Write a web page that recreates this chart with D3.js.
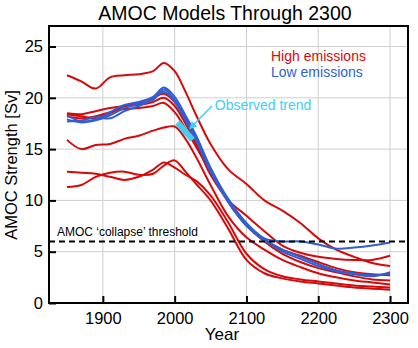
<!DOCTYPE html>
<html>
<head>
<meta charset="utf-8">
<script src="https://cdn.jsdelivr.net/npm/d3@7"></script>
<style>
  body { margin: 0; background: #fff; }
  svg text { font-family: "Liberation Sans", Arial, Helvetica, sans-serif; }
</style>
</head>
<body>
<svg id="chart" width="418" height="348"></svg>
<script>
// Years sampled along every model run
const years = [1850, 1870, 1890, 1910, 1930, 1950, 1970, 1985, 2000, 2015, 2030, 2050, 2075, 2100, 2125, 2150, 2175, 2200, 2225, 2250, 2275, 2300];

// High emissions runs (Sv)
const high1 = [22.2, 21.6, 20.9, 22.0, 22.2, 22.3, 22.6, 23.4, 22.6, 20.6, 18.3, 15.5, 13.0, 11.6, 10.0, 9.0, 7.8, 6.3, 5.2, 4.5, 3.9, 3.6];
const high2 = [18.5, 18.4, 18.7, 19.0, 19.2, 19.3, 19.6, 20.0, 19.2, 17.5, 15.5, 12.5, 10.0, 8.5, 7.0, 5.6, 4.9, 4.5, 4.3, 4.2, 4.2, 4.6];
const high3 = [18.2, 18.0, 18.2, 18.6, 18.9, 19.0, 19.2, 19.5, 18.6, 17.0, 15.2, 12.8, 10.0, 7.6, 6.0, 4.8, 4.0, 3.4, 3.0, 2.6, 2.3, 2.2];
const high4 = [15.9, 15.0, 15.4, 15.5, 16.0, 16.3, 16.8, 17.1, 17.2, 16.0, 14.2, 11.5, 8.4, 6.4, 5.2, 4.2, 3.5, 2.9, 2.5, 2.2, 2.0, 1.8];
const high5 = [12.8, 12.7, 12.6, 12.3, 12.0, 12.3, 13.0, 13.7, 13.2, 12.5, 11.9, 10.5, 7.8, 4.8, 3.3, 2.6, 2.3, 2.1, 1.9, 1.7, 1.6, 1.5];
const high6 = [11.3, 11.5, 12.3, 12.7, 12.8, 12.5, 12.6, 13.4, 13.9, 12.8, 11.6, 10.0, 7.2, 4.2, 2.9, 2.4, 2.1, 1.9, 1.7, 1.5, 1.4, 1.3];
const high7 = [18.4, 18.2, 18.0, 18.5, 19.2, 19.5, 20.0, 20.4, 19.6, 18.0, 16.0, 13.0, 9.8, 7.6, 6.2, 5.2, 4.6, 4.0, 3.4, 3.0, 2.8, 2.7];

// Low emissions runs (Sv)
const low1 = [18.3, 17.7, 17.9, 18.6, 19.3, 19.6, 20.1, 21.0, 20.1, 18.3, 16.3, 13.2, 10.1, 7.8, 6.3, 6.0, 6.0, 5.7, 5.3, 5.4, 5.6, 5.9];
const low2 = [17.9, 17.6, 17.8, 18.3, 19.0, 19.4, 19.8, 20.8, 19.8, 18.0, 16.0, 13.0, 10.0, 7.7, 6.2, 5.0, 4.3, 3.6, 3.1, 2.8, 2.6, 3.0];
const low3 = [17.7, 17.8, 18.1, 18.0, 18.7, 19.2, 19.9, 20.6, 19.6, 17.8, 15.8, 12.8, 9.8, 7.5, 6.1, 5.2, 4.5, 3.8, 3.2, 2.9, 2.7, 2.9];

// Observed trend and threshold
const obsYears = [2004, 2025];
const obsValues = [17.6, 15.9];
const threshold = 6;

const xTicks = [1900, 2000, 2100, 2200, 2300];
const yTicks = [0, 5, 10, 15, 20, 25];

const highRuns = [high1, high2, high3, high4, high5, high6, high7];
const lowRuns = [low1, low2, low3];

const red = "#d60a0a";
const blue = "#2f5fd3";
const cyan = "#3fd0f4";

const margin = {left: 49, right: 10, top: 26, bottom: 45};
const width = 418, height = 348;

const svg = d3.select("#chart");

const x = d3.scaleLinear().domain([1825, 2325]).range([margin.left, width - margin.right]);
const y = d3.scaleLinear().domain([0, 27]).range([height - margin.bottom, margin.top]);

// grid
svg.append("g").selectAll("line").data(xTicks).join("line")
  .attr("x1", d => x(d)).attr("x2", d => x(d))
  .attr("y1", y(0)).attr("y2", y(27))
  .attr("stroke", "#cfcfcf").attr("stroke-width", 1);
svg.append("g").selectAll("line").data(yTicks.slice(1)).join("line")
  .attr("x1", x(1825)).attr("x2", x(2325))
  .attr("y1", d => y(d)).attr("y2", d => y(d))
  .attr("stroke", "#cfcfcf").attr("stroke-width", 1);

// model lines
const line = d3.line()
  .x((d, i) => x(years[i]))
  .y(d => y(d))
  .curve(d3.curveCatmullRom);

svg.append("g").selectAll("path").data(highRuns).join("path")
  .attr("d", d => line(d))
  .attr("fill", "none")
  .attr("stroke", red)
  .attr("stroke-width", 2);

svg.append("g").selectAll("path").data(lowRuns).join("path")
  .attr("d", d => line(d))
  .attr("fill", "none")
  .attr("stroke", blue)
  .attr("stroke-width", 2);

// observed trend
svg.append("line")
  .attr("x1", x(obsYears[0])).attr("y1", y(obsValues[0]))
  .attr("x2", x(obsYears[1])).attr("y2", y(obsValues[1]))
  .attr("stroke", cyan).attr("stroke-width", 6);

svg.append("defs").append("marker")
  .attr("id", "arrow")
  .attr("viewBox", "0 0 10 10")
  .attr("refX", 9).attr("refY", 5)
  .attr("markerWidth", 5).attr("markerHeight", 5)
  .attr("orient", "auto")
  .append("path").attr("d", "M0,0L10,5L0,10z").attr("fill", cyan);

svg.append("line")
  .attr("x1", x(2052)).attr("y1", y(19.2))
  .attr("x2", x(2021)).attr("y2", y(17.0))
  .attr("stroke", cyan).attr("stroke-width", 1.5)
  .attr("marker-end", "url(#arrow)");

svg.append("text")
  .attr("x", x(2056)).attr("y", y(18.8))
  .attr("fill", cyan).attr("font-size", 14)
  .text("Observed trend");

// threshold
svg.append("line")
  .attr("x1", x(1825)).attr("x2", x(2325))
  .attr("y1", y(threshold)).attr("y2", y(threshold))
  .attr("stroke", "#000").attr("stroke-width", 2)
  .attr("stroke-dasharray", "6,4");

svg.append("text")
  .attr("x", x(1836)).attr("y", y(threshold) - 5)
  .attr("font-size", 12)
  .text("AMOC \u2018collapse\u2019 threshold");

// axes
const xAxis = d3.axisBottom(x).tickValues(xTicks).tickFormat(d3.format("d"))
  .tickSizeInner(-7).tickSizeOuter(0).tickPadding(9);
const yAxis = d3.axisLeft(y).tickValues(yTicks).tickSizeInner(-7).tickSizeOuter(0).tickPadding(6);

const gx = svg.append("g").attr("transform", `translate(0,${y(0)})`).call(xAxis);
const gy = svg.append("g").attr("transform", `translate(${x(1825)},0)`).call(yAxis);
[gx, gy].forEach(g => {
  g.select(".domain").remove();
  g.selectAll(".tick line").attr("stroke", "#000").attr("stroke-width", 2);
  g.selectAll(".tick text").attr("font-size", 16.5).attr("fill", "#000")
    .attr("font-family", "'Liberation Sans', Arial, sans-serif");
});

// frame
svg.append("rect")
  .attr("x", x(1825)).attr("y", y(27))
  .attr("width", x(2325) - x(1825)).attr("height", y(0) - y(27))
  .attr("fill", "none").attr("stroke", "#000").attr("stroke-width", 2);

// legend
svg.append("text").attr("x", 271).attr("y", 60.5).attr("font-size", 14).attr("fill", red).text("High emissions");
svg.append("text").attr("x", 271).attr("y", 77).attr("font-size", 14).attr("fill", blue).text("Low emissions");

// titles
svg.append("text").attr("x", 225).attr("y", 20).attr("text-anchor", "middle")
  .attr("font-size", 19.5).text("AMOC Models Through 2300");
svg.append("text").attr("x", 222).attr("y", 340).attr("text-anchor", "middle")
  .attr("font-size", 17).text("Year");
svg.append("text").attr("transform", "translate(17,165) rotate(-90)").attr("text-anchor", "middle")
  .attr("font-size", 16.5).text("AMOC Strength [Sv]");
</script>
</body>
</html>
